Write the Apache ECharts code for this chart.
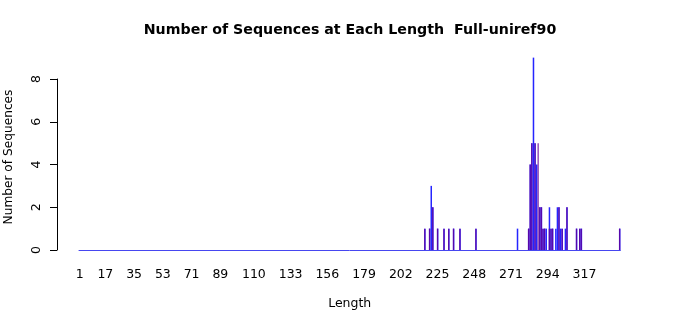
<!DOCTYPE html>
<html>
<head>
<meta charset="utf-8">
<script src="https://cdn.jsdelivr.net/npm/echarts@6/dist/echarts.min.js"></script>
<style>html,body{margin:0;padding:0;background:#fff}#c{width:700px;height:315px}</style>
</head>
<body>
<div id="c"></div>
<script>
// Categories: sequence lengths 1..339
const maxLength = 339;
const tickLabels = [1, 17, 35, 53, 71, 89, 110, 133, 156, 179, 202, 225, 248, 271, 294, 317];
// Blue series (non-zero lengths and counts)
const blueLengths = [217, 220, 221, 222, 225, 229, 232, 235, 239, 249, 275, 282, 283, 284, 285, 286, 287, 289, 290, 291, 292, 293, 295, 296, 297, 299, 300, 301, 302, 303, 305, 306, 312, 314, 315, 339];
const blueCounts  = [1,   1,   3,   2,   1,   1,   1,   1,   1,   1,   1,   1,   4,   5,   9,   5,   4,   2,   2,   1,   1,   1,   2,   1,   1,   1,   2,   2,   1,   1,   1,   2,   1,   1,   1,   1];
// Purple series (non-zero lengths and counts)
const purpleLengths = [217, 220, 222, 225, 229, 232, 235, 239, 249, 282, 283, 284, 286, 288, 289, 290, 291, 292, 295, 296, 297, 301, 303, 306, 312, 314, 315, 339];
const purpleCounts  = [1,   1,   2,   1,   1,   1,   1,   1,   1,   1,   4,   5,   5,   5,   2,   2,   1,   1,   1,   1,   1,   2,   1,   2,   1,   1,   1,   1];

const categories = [];
for (let i = 1; i <= maxLength; i++) categories.push(String(i));
function fill(lengths, counts) {
  const arr = categories.map(() => 0);
  lengths.forEach((l, k) => { arr[l - 1] = counts[k]; });
  return arr;
}
const blueData = fill(blueLengths, blueCounts);
const purpleData = fill(purpleLengths, purpleCounts);

const font = 'DejaVu Sans';
const chart = echarts.init(document.getElementById('c'), null, {renderer: 'canvas'});
chart.setOption({
  animation: false,
  backgroundColor: '#fff',
  title: {
    text: 'Number of Sequences at Each Length  Full-uniref90',
    left: 'center', top: 23, padding: 0,
    textStyle: {fontFamily: font, fontSize: 14.2, fontWeight: 'bold', color: '#000'}
  },
  grid: {left: 79, right: 79.6, top: 79, bottom: 60, containLabel: false},
  xAxis: {
    type: 'category',
    data: categories,
    boundaryGap: true,
    axisTick: {show: false},
    axisLine: {show: true, lineStyle: {color: '#4646f0', width: 1}},
    axisLabel: {
      interval: (idx, val) => tickLabels.includes(Number(val)),
      margin: 18, fontSize: 12.5, color: '#000', fontFamily: font
    },
    name: 'Length', nameLocation: 'middle', nameGap: 47,
    nameTextStyle: {fontSize: 12.5, color: '#000', fontFamily: font}
  },
  yAxis: {
    type: 'value', min: 0, max: 8, interval: 2, offset: 22,
    splitLine: {show: false},
    axisLine: {show: true, lineStyle: {color: '#000', width: 1}},
    axisTick: {show: true, length: 7, lineStyle: {color: '#000'}},
    axisLabel: {rotate: 90, margin: 14, fontSize: 12.5, color: '#000', fontFamily: font}
  },
  graphic: [{
    type: 'text', x: 9, y: 157, rotation: Math.PI / 2,
    style: {text: 'Number of Sequences', fontFamily: font, fontSize: 12.2, fill: '#000', align: 'center', verticalAlign: 'middle'}
  }],
  series: [
    {type: 'bar', data: blueData, barWidth: '95%', barGap: '-100%', clip: false,
     itemStyle: {color: 'rgba(25,25,255,0.95)'}},
    {type: 'bar', data: purpleData, barWidth: '80%', barGap: '-100%', clip: false,
     itemStyle: {color: 'rgba(100,0,150,0.8)'}}
  ]
});
</script>
</body>
</html>
